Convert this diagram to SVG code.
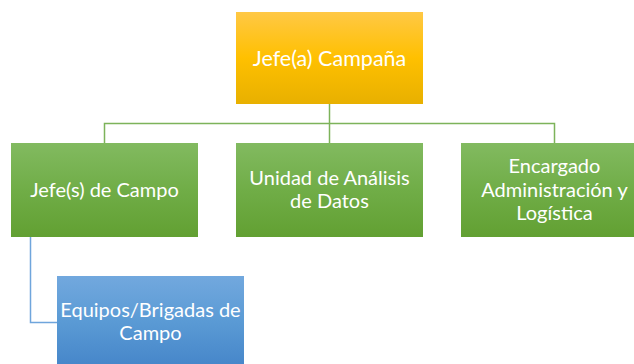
<svg xmlns="http://www.w3.org/2000/svg" width="634" height="364" viewBox="0 0 634 364">
<defs>
<linearGradient id="gOrange" x1="0" y1="0" x2="0" y2="1">
<stop offset="0" stop-color="#FFC845"/>
<stop offset="0.5" stop-color="#FFC000"/>
<stop offset="1" stop-color="#E8B000"/>
</linearGradient>
<linearGradient id="gGreen" x1="0" y1="0" x2="0" y2="1">
<stop offset="0" stop-color="#82BA60"/>
<stop offset="0.5" stop-color="#70AD47"/>
<stop offset="1" stop-color="#62A032"/>
</linearGradient>
<linearGradient id="gBlue" x1="0" y1="0" x2="0" y2="1">
<stop offset="0" stop-color="#72A8DE"/>
<stop offset="0.5" stop-color="#5B9BD5"/>
<stop offset="1" stop-color="#4787CA"/>
</linearGradient>
</defs>
<style>
.t{font-family:Lato,"Open Sans","Liberation Sans",sans-serif;fill:#ffffff;text-anchor:middle;}
.big{font-size:21.5px;}
.sm{font-size:20px;}
.lg{fill:none;stroke:#7DB35A;stroke-width:1.5;}
.lb{fill:none;stroke:#6FA5DC;stroke-width:1.5;}
</style>
<g id="connectors">
<path class="lg" d="M329.5,104 V143"/>
<path class="lg" d="M104.5,143 V123.5 H554.5 V143"/>
<path class="lb" d="M30.5,237 V322.5 H57"/>
</g>
<g id="jefe-campana">
<rect x="236" y="12" width="187" height="92" fill="url(#gOrange)"/>
<text class="t big" x="329.5" y="66">Jefe(a) Campaña</text>
</g>
<g id="jefes-campo">
<rect x="11" y="143" width="187" height="94" fill="url(#gGreen)"/>
<text class="t sm" x="104.5" y="197">Jefe(s) de Campo</text>
</g>
<g id="unidad-analisis">
<rect x="236" y="143" width="187" height="94" fill="url(#gGreen)"/>
<text class="t sm" x="329.5" y="185">Unidad de Análisis</text>
<text class="t sm" x="329.5" y="208">de Datos</text>
</g>
<g id="encargado-admin">
<rect x="461" y="143" width="187" height="94" fill="url(#gGreen)"/>
<text class="t sm" x="554.5" y="173">Encargado</text>
<text class="t sm" x="554.5" y="197">Administración y</text>
<text class="t sm" x="554.5" y="220">Logística</text>
</g>
<g id="equipos-brigadas">
<rect x="57" y="276" width="187" height="88" fill="url(#gBlue)"/>
<text class="t sm" x="150.5" y="317">Equipos/Brigadas de</text>
<text class="t sm" x="150.5" y="340">Campo</text>
</g>
</svg>
